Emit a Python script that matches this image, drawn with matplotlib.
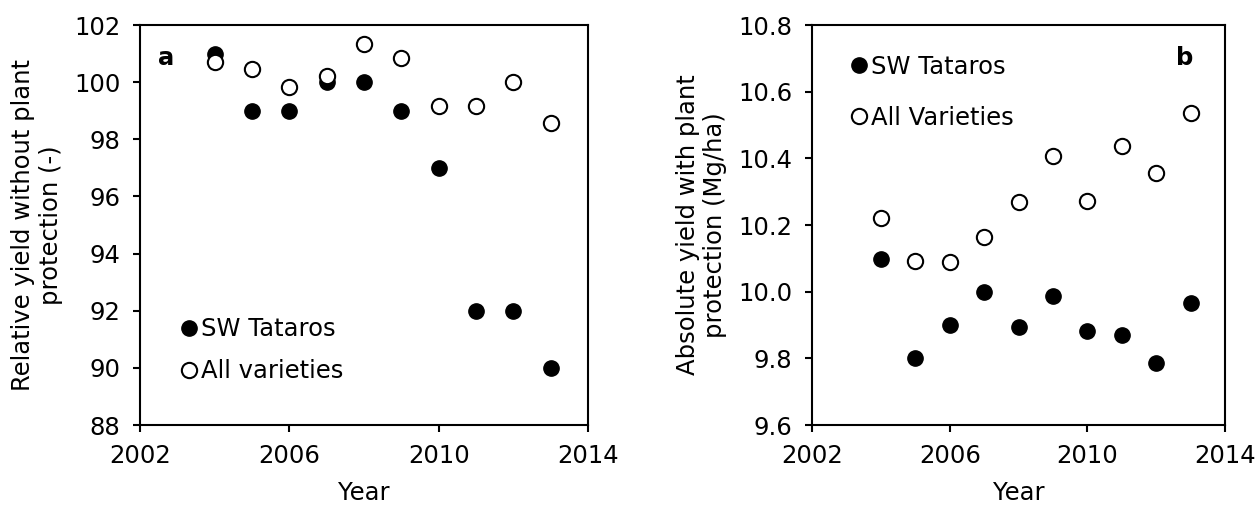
import matplotlib.pyplot as plt

years = [2004, 2005, 2006, 2007, 2008, 2009, 2010, 2011, 2012, 2013]

# panel a: relative yield without plant protection
rel_tataros = [101, 99, 99, 100, 100, 99, 97, 92, 92, 90]
rel_all = [100.7, 100.45, 99.82, 100.22, 101.35, 100.85, 99.18, 99.18, 100.0, 98.57]

# panel b: absolute yield with plant protection (Mg/ha)
abs_tataros = [10.098, 9.80, 9.90, 10.00, 9.893, 9.986, 9.881, 9.871, 9.785, 9.966]
abs_all = [10.222, 10.093, 10.089, 10.163, 10.269, 10.407, 10.272, 10.437, 10.357, 10.535]

plt.rcParams['font.family'] = 'DejaVu Sans'
fs = 17.5

fig = plt.figure(figsize=(12.57, 5.05), dpi=100)
ax1 = fig.add_axes([0.1114, 0.1584, 0.3564, 0.792])
ax2 = fig.add_axes([0.646, 0.1584, 0.3286, 0.792])

def style(ax):
    for s in ax.spines.values():
        s.set_linewidth(1.5)
        s.set_color('black')
    ax.tick_params(direction='out', length=5, width=1.5, labelsize=fs, pad=9,
                   top=False, right=False)
    ax.set_xlim(2002, 2014)
    ax.set_xticks([2002, 2006, 2010, 2014])
    ax.set_xlabel("Year", fontsize=fs, labelpad=9)

# left panel
ax1.plot(years, rel_tataros, 'o', color='black', markersize=11, label="SW Tataros", clip_on=False)
ax1.plot(years, rel_all, 'o', markerfacecolor='white', markeredgecolor='black',
         markeredgewidth=1.5, markersize=11, label="All varieties", clip_on=False)
style(ax1)
ax1.set_ylim(88, 102)
ax1.set_yticks(range(88, 103, 2))
ax1.set_ylabel("Relative yield without plant\nprotection (-)", fontsize=fs, labelpad=8)
ax1.text(0.04, 0.90, "a", transform=ax1.transAxes, fontsize=fs, fontweight='bold')
ax1.legend(loc='lower left', bbox_to_anchor=(0.06, 0.08), frameon=False, fontsize=fs,
           handletextpad=0.0, handlelength=1.0, labelspacing=0.75, borderaxespad=0)

# right panel
ax2.plot(years, abs_tataros, 'o', color='black', markersize=11, label="SW Tataros", clip_on=False)
ax2.plot(years, abs_all, 'o', markerfacecolor='white', markeredgecolor='black',
         markeredgewidth=1.5, markersize=11, label="All Varieties", clip_on=False)
style(ax2)
ax2.set_ylim(9.6, 10.8)
ax2.set_yticks([9.6, 9.8, 10.0, 10.2, 10.4, 10.6, 10.8])
ax2.set_yticklabels(["9.6", "9.8", "10.0", "10.2", "10.4", "10.6", "10.8"])
ax2.set_ylabel("Absolute yield with plant\nprotection (Mg/ha)", fontsize=fs, labelpad=8)
ax2.text(0.88, 0.90, "b", transform=ax2.transAxes, fontsize=fs, fontweight='bold')
ax2.legend(loc='upper left', bbox_to_anchor=(0.06, 0.95), frameon=False, fontsize=fs,
           handletextpad=0.0, handlelength=1.0, labelspacing=1.1, borderaxespad=0)

fig.savefig("out.png", dpi=100)
